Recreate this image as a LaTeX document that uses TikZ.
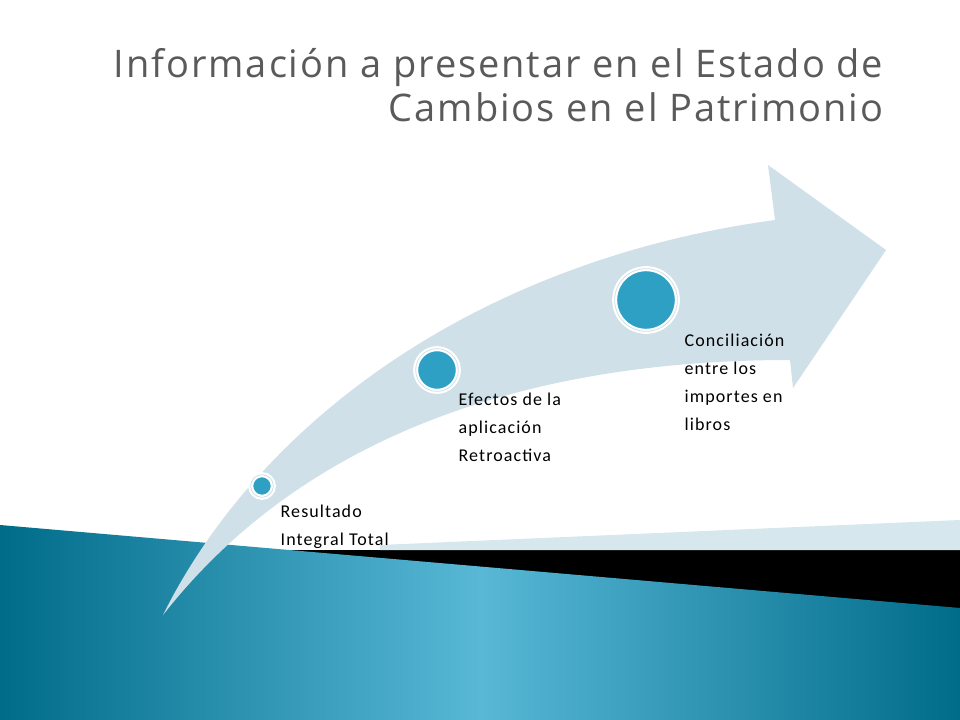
\documentclass[tikz,border=0pt]{standalone}
\usepackage{fontspec}
\setmainfont{Carlito}[LetterSpace=6]
\newfontfamily\titlefont{Open Sans}[LetterSpace=5]
\definecolor{arrowblue}{RGB}{207,224,232}
\definecolor{dotblue}{RGB}{46,160,196}
\definecolor{titlegray}{RGB}{90,90,90}
\definecolor{tealdark}{RGB}{0,108,138}
\definecolor{teallight}{RGB}{88,184,214}
\definecolor{striplight}{RGB}{214,231,238}
\tikzset{
    dot/.style={circle, fill=dotblue, draw=white, line width=1.6pt, double=arrowblue, double distance=0.6pt, inner sep=0pt},
    steplabel/.style={anchor=north west, align=left, font=\fontsize{13.5}{21}\selectfont, text=black},
}
\begin{document}
\begin{tikzpicture}[x=0.75pt, y=-0.75pt]
\useasboundingbox (0,0) rectangle (960,720);
% background bands
\fill[black] (0,550) rectangle (960,720);
\fill[striplight] (380,545) -- (960,520) -- (960,550) -- (380,550) -- cycle;
\shade[left color=tealdark, right color=tealdark, middle color=teallight]
    (0,525) -- (960,608) -- (960,720) -- (0,720) -- cycle;
% curved arrow
\fill[arrowblue] (163,615) .. controls (260,420) and (480,260) .. (775,220)
    -- (768,165) -- (886,250) -- (793,388) -- (790,360)
    .. controls (520,360) and (300,440) .. cycle;
% title
\node (title) [anchor=north east, align=right, text=titlegray,
    font=\titlefont\fontsize{28.5}{33}\selectfont] at (888,44)
    {Información a presentar en el Estado de\\Cambios en el Patrimonio};
% dots and labels
\node (d1) [dot, minimum size=17pt] at (262,486) {};
\node (d2) [dot, minimum size=32pt] at (437,370) {};
\node (d3) [dot, minimum size=47pt] at (646,300) {};
\node (l1) [steplabel] at (276,500) {Resultado\\Integral Total};
\node (l2) [steplabel] at (454,388) {Efectos de la\\aplicación\\Retroactiva};
\node (l3) [steplabel] at (680,329) {Conciliación\\entre los\\importes en\\libros};
\end{tikzpicture}
\end{document}
